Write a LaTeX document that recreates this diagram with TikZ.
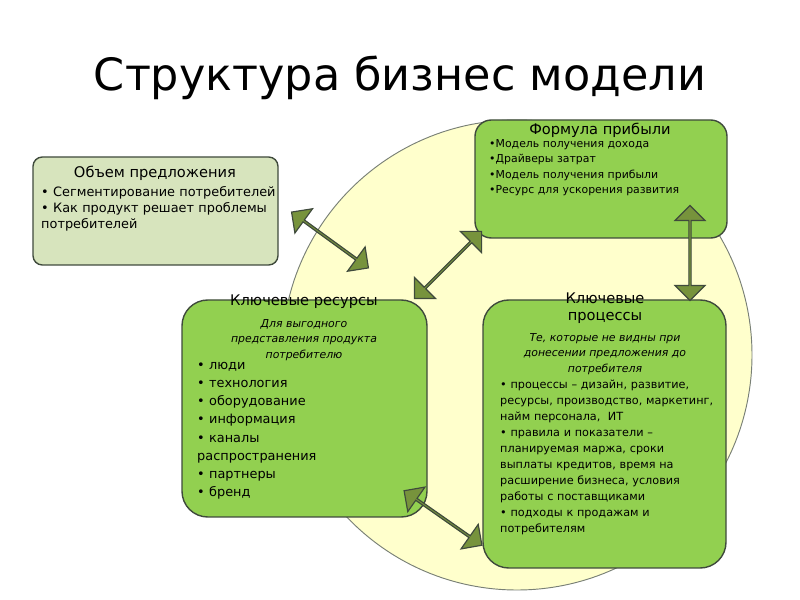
\documentclass[tikz,border=0pt]{standalone}
\usepackage{fontspec}
\setmainfont{DejaVu Sans}
\usetikzlibrary{shapes.arrows}
\definecolor{ringfill}{HTML}{FFFFCC}
\definecolor{boxgreen}{HTML}{92D050}
\definecolor{boxpale}{HTML}{D7E4BD}
\definecolor{arrowgreen}{HTML}{77933C}
\definecolor{edgegray}{HTML}{3F4A3C}
\tikzset{
    block/.style = {draw=edgegray, line width=1.2pt, rounded corners=14pt, fill=boxgreen},
    headtext/.style = {font=\fontsize{12.5}{14}\selectfont, align=center},
    bodytext/.style = {anchor=north west, align=left, inner sep=0pt},
    linkarrow/.style = {double arrow, draw=edgegray, line width=1pt, fill=arrowgreen,
        minimum height=95*0.03cm, minimum width=30*0.03cm,
        double arrow head extend=7*0.03cm, inner sep=0pt}
}
\begin{document}
\begin{tikzpicture}[x=0.03cm, y=-0.03cm]
        \useasboundingbox (0,0) rectangle (800,600);
        \node (title) at (400,78) {\fontsize{38}{44}\selectfont Структура бизнес модели};
        % background circle
        \draw[draw=edgegray!70, fill=ringfill, line width=0.8pt] (517,355) circle (235);
        % boxes
        \draw[block, fill=boxpale, rounded corners=8pt] (33,157) rectangle (278,265);
        \node [headtext] (offer) at (155,173) {Объем предложения};
        \node [bodytext, text width=235*0.03cm, font=\fontsize{11}{13.6}\selectfont] (offerlist) at (41,186)
            {• Сегментирование потребителей\\• Как продукт решает проблемы потребителей};
        \draw[block] (475,120) rectangle (727,238);
        \node [headtext] (profit) at (600,130) {Формула прибыли};
        \node [bodytext, text width=230*0.03cm, font=\fontsize{9.3}{13.3}\selectfont] (profitlist) at (489,139)
            {•Модель получения дохода\\•Драйверы затрат\\•Модель получения прибыли\\•Ресурс для ускорения развития};
        \draw[block, rounded corners=22pt] (182,300) rectangle (427,517);
        \node [headtext] (res) at (304,302) {Ключевые ресурсы};
        \node [font=\fontsize{9.3}{13}\selectfont\itshape, align=center] (resnote) at (304,340)
            {Для выгодного\\представления продукта\\потребителю};
        \node [bodytext, text width=175*0.03cm, font=\fontsize{11}{15.5}\selectfont] (reslist) at (197,362)
            {• люди\\• технология\\• оборудование\\• информация\\• каналы\\распространения\\• партнеры\\• бренд};
        \draw[block, rounded corners=22pt] (483,300) rectangle (726,568);
        \node [headtext] (proc) at (605,308) {Ключевые\\процессы};
        \node [font=\fontsize{9.3}{13}\selectfont\itshape, align=center] (procnote) at (605,354)
            {Те, которые не видны при\\донесении предложения до\\потребителя};
        \node [bodytext, text width=215*0.03cm, font=\fontsize{9.6}{13.6}\selectfont] (proclist) at (500,380)
            {• процессы – дизайн, развитие, ресурсы, производство, маркетинг, найм персонала,~ ИТ\\%
             • правила и показатели – планируемая маржа, сроки выплаты кредитов, время на расширение бизнеса, условия работы с поставщиками\\%
             •~подходы к продажам и потребителям};
        % arrows
        \node [linkarrow, rotate=-36] (a1) at (330,240) {};
        \node [linkarrow, rotate=45] (a2) at (448,265) {};
        \node [linkarrow, rotate=90] (a3) at (690,253) {};
        \node [linkarrow, rotate=-35] (a4) at (443,518) {};
\end{tikzpicture}
\end{document}
